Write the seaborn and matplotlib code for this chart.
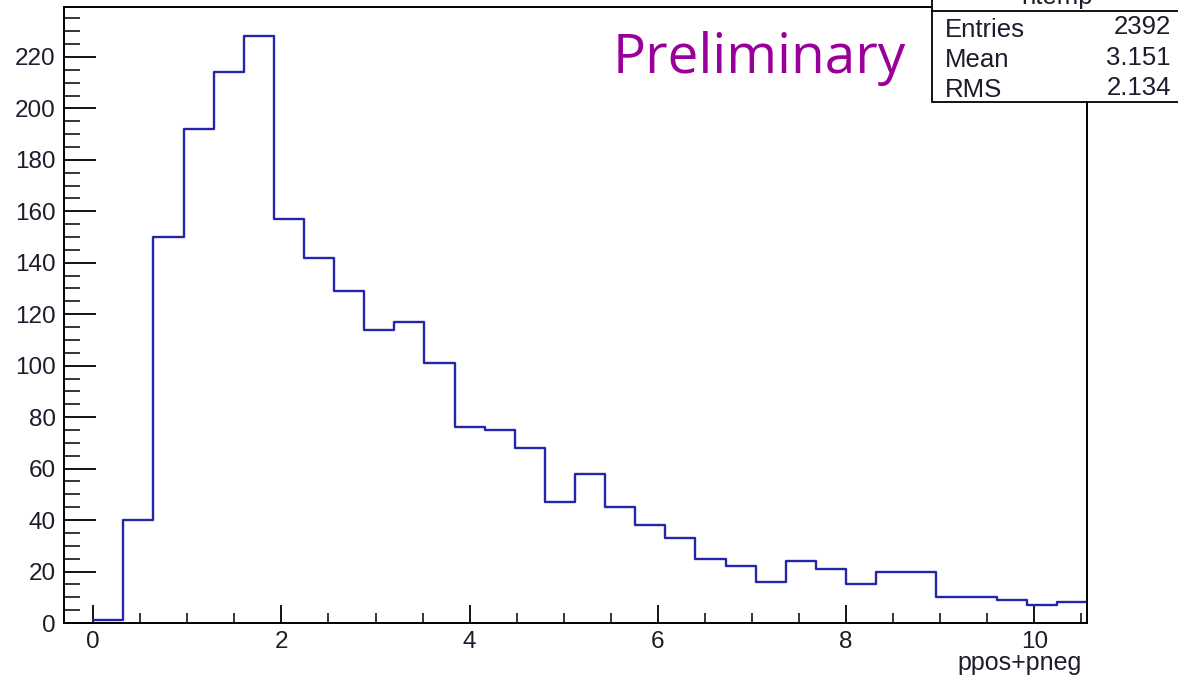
import numpy as np
import pandas as pd
import matplotlib
matplotlib.use("Agg")
import matplotlib.pyplot as plt
from matplotlib.patches import Rectangle
from matplotlib.lines import Line2D
from matplotlib.ticker import MultipleLocator
import seaborn as sns

# Histogram of ppos+pneg: 33 bins of width 0.32 starting at 0
bin_width = 0.32
counts = [1, 40, 150, 192, 214, 228, 157, 142, 129, 114, 117, 101, 76, 75, 68,
          47, 58, 45, 38, 33, 25, 22, 16, 24, 21, 15, 20, 20, 10, 10, 9, 7, 8]

# Statistics box contents
hist_name = "htemp"
stat_labels = ["Entries", "Mean", "RMS"]
stat_values = ["2392", "3.151", "2.134"]

x_title = "ppos+pneg"
watermark = "Preliminary"

n_bins = len(counts)
x_max = n_bins * bin_width
centers = (np.arange(n_bins) + 0.5) * bin_width
df = pd.DataFrame({"x": centers, "n": counts})

sns.set_style("white")
plt.rcParams["font.family"] = ["Liberation Sans", "DejaVu Sans"]

fig = plt.figure(figsize=(11.78, 6.78), dpi=100)
ax = fig.add_axes([64 / 1178, 1 - 623 / 678, (1087 - 64) / 1178, (623 - 7) / 678])

sns.histplot(data=df, x="x", weights="n", binwidth=bin_width,
             binrange=(0, x_max), element="step", fill=False,
             color="#2525aa", linewidth=1.7, ax=ax)

ax.set_xlim(-0.31, x_max)
ax.set_ylim(0, max(counts) * 1.05)
ax.set_xlabel("")
ax.set_ylabel("")

ax.xaxis.set_major_locator(MultipleLocator(2))
ax.xaxis.set_minor_locator(MultipleLocator(0.5))
ax.yaxis.set_major_locator(MultipleLocator(20))
ax.yaxis.set_minor_locator(MultipleLocator(5))
ax.set_yticks(np.arange(0, 221, 20))

ax.tick_params(axis="x", which="major", direction="in", length=13, width=1.3,
               labelsize=17.5, pad=6, colors="black", top=False, bottom=True)
ax.tick_params(axis="x", which="minor", direction="in", length=7.5, width=1.3,
               top=False, bottom=True)
ax.tick_params(axis="y", which="major", direction="in", length=23, width=1.3,
               labelsize=17.5, pad=6, colors="black", left=True, right=False)
ax.tick_params(axis="y", which="minor", direction="in", length=11.5, width=1.3,
               left=True, right=False)
for lbl in ax.get_xticklabels() + ax.get_yticklabels():
    lbl.set_color("#1c1c2c")

for sp in ax.spines.values():
    sp.set_visible(True)
    sp.set_color("black")
    sp.set_linewidth(1.4)

fig.text(1082 / 1178, 1 - 670 / 678, x_title, ha="right", va="baseline",
         fontsize=18, color="#1c1c2c")

fig.text(613 / 1178, 1 - 73 / 678, watermark, ha="left", va="baseline",
         fontsize=39.5, color="#990099", family=["Open Sans", "DejaVu Sans"])

# Statistics box in the upper right corner
bx0 = 932 / 1178
by0 = 1 - 102 / 678
fig.patches.append(Rectangle((bx0, by0), 1.05 - bx0, 1.05 - by0,
                             transform=fig.transFigure, facecolor="white",
                             edgecolor="black", linewidth=1.3, zorder=5))
sep_y = 1 - 10.5 / 678
fig.lines.append(Line2D([bx0, 1.0], [sep_y, sep_y], transform=fig.transFigure,
                        color="black", linewidth=1.3, zorder=6))
fig.text(1057 / 1178, 1 - 4 / 678, hist_name, ha="center", va="baseline",
         fontsize=18.5, color="#1c1c2c", zorder=7)
label_base = [37, 67, 97]
value_base = [34, 65, 95]
for lab, val, yl, yv in zip(stat_labels, stat_values, label_base, value_base):
    fig.text(945 / 1178, 1 - yl / 678, lab, ha="left", va="baseline",
             fontsize=18.5, color="#1c1c2c", zorder=7)
    fig.text(1171 / 1178, 1 - yv / 678, val, ha="right", va="baseline",
             fontsize=18.5, color="#1c1c2c", zorder=7)

fig.savefig("out.png", dpi=100)
